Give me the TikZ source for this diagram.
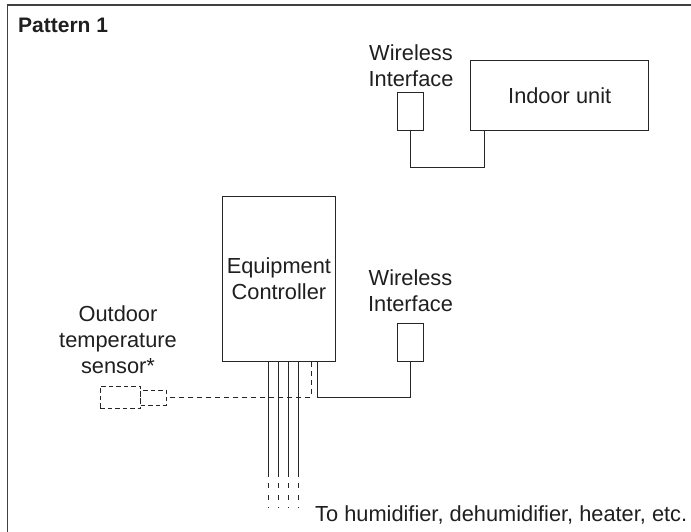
\documentclass[tikz,border=0pt]{standalone}
\usepackage{fontspec}
\setmainfont{Liberation Sans}
\usetikzlibrary{
    calc
}

\begin{document}
\begin{tikzpicture}[
    x=1pt,
    y=-1pt,
    every node/.style={
        font=\fontsize{21.8pt}{26pt}\selectfont,
        text=black!88
    },
    unit/.style={
        rectangle,
        draw=black!85,
        line width=1pt,
        inner sep=0pt,
        align=center
    },
    sensorbox/.style={
        unit,
        dash pattern=on 4.5pt off 3pt
    },
    caption/.style={
        align=center,
        inner sep=0pt
    },
    wire/.style={
        line width=1pt,
        draw=black!85
    },
    sensorline/.style={
        wire,
        dash pattern=on 5pt off 4pt
    },
    cableend/.style={
        wire,
        dash pattern=on 5pt off 7pt,
        dash phase=6pt
    },
    paneltitle/.style={
        font=\fontsize{21pt}{25pt}\selectfont\bfseries,
        inner sep=0pt
    }
]

\useasboundingbox (0,0) rectangle (691,531);
\clip (0,0) rectangle (691,531);

% ===========================================================
% Frame and title
% ===========================================================

\draw[line width=1.5pt, draw=black!75] (7.3,5) rectangle (720,560);

\node[paneltitle, anchor=base west] (title) at (18,32.5)
    {Pattern 1};

% ===========================================================
% Indoor side
% ===========================================================

\node[unit, minimum width=178pt, minimum height=70pt] (indoor) at (559.7,95.7)
    {Indoor unit};

\node[unit, minimum width=26pt, minimum height=38.5pt] (witop) at (410.7,111.5)
    {};

\node[caption] (witoplabel) at (411,66)
    {Wireless\\Interface};

% Wireless interface to indoor unit
\draw[wire]
    (witop.south)
    -- ++(0,36)
    -| ($(indoor.south west)+(14.3,0)$);

% ===========================================================
% Controller side
% ===========================================================

\node[unit, minimum width=112.3pt, minimum height=165.7pt] (ec) at (278.9,278.9)
    {Equipment\\Controller};

\node[unit, minimum width=25.6pt, minimum height=38.4pt] (wibot) at (410.5,342.5)
    {};

\node[caption] (wibotlabel) at (410.5,290.5)
    {Wireless\\Interface};

\node[sensorbox, minimum width=40.7pt, minimum height=22pt] (sensor) at (120.4,397.7)
    {};

\node[sensorbox, minimum width=26pt, minimum height=15pt] (sensortip) at (153.7,397.5)
    {};

\node[caption] (sensorlabel) at (118,340)
    {Outdoor\\temperature\\sensor*};

% Controller to wireless interface
\coordinate (ecwire) at ($(ec.south east)+(-18,0)$);
\draw[wire]
    (ecwire)
    -- ++(0,35.5)
    -| (wibot.south);

% Optional sensor connection
\coordinate (ecsensor) at ($(ec.south east)+(-24.5,0)$);
\draw[sensorline]
    (ecsensor)
    |- (sensortip.east);

% Output cables
\foreach \i/\dx in {1/46.6, 2/56.3, 3/66, 4/76} {
    \coordinate (cable\i) at ($(ec.south west)+(\dx,0)$);
    \draw[wire] (cable\i) -- ++(0,114.8) coordinate (cableend\i);
    \draw[cableend] (cableend\i) -- ++(0,31.3);
}

\node[caption, anchor=base west] (cablenote) at (315,521.7)
    {To humidifier, dehumidifier, heater, etc.};

\end{tikzpicture}
\end{document}
